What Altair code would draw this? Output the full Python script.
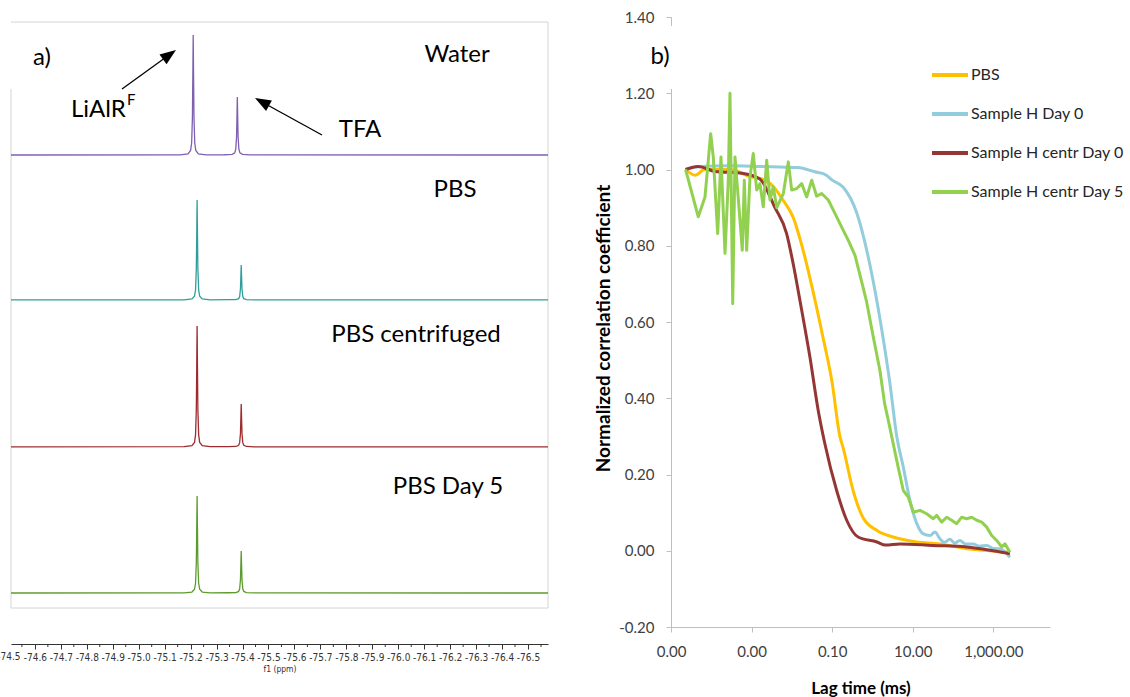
import altair as alt
import pandas as pd

# ---------------- a) 19F NMR spectra (chemical shift, ppm) ----------------
spectrum_names = ["Water", "PBS", "PBS centrifuged", "PBS Day 5"]
spectrum_colors = ["#7e5fb0", "#2f9f9b", "#9e2b2f", "#5c9c2e"]

ppm_water = [-74.508, -75.16, -75.19, -75.20, -75.204, -75.207, -75.2085, -75.21, -75.2115,
             -75.213, -75.216, -75.22, -75.23, -75.26, -75.33, -75.36, -75.37, -75.374,
             -75.377, -75.3785, -75.38, -75.3815, -75.383, -75.386, -75.39, -75.40, -75.43, -76.577]
ppm_other = [-74.508, -75.175, -75.205, -75.215, -75.219, -75.222, -75.2235, -75.225, -75.2265,
             -75.228, -75.231, -75.235, -75.245, -75.275, -75.345, -75.375, -75.385, -75.389,
             -75.392, -75.3935, -75.395, -75.3965, -75.398, -75.401, -75.405, -75.415, -75.445, -76.577]

int_water = [0, 0.0016, 0.01, 0.038, 0.1, 0.31, 0.64, 1.0, 0.64, 0.31, 0.1, 0.038, 0.01, 0.0016,
             0.002, 0.005, 0.018, 0.048, 0.15, 0.309, 0.483, 0.309, 0.15, 0.048, 0.018, 0.005, 0.001, 0]
int_pbs = [0, 0.001, 0.008, 0.032, 0.083, 0.258, 0.533, 0.833, 0.533, 0.258, 0.083, 0.032, 0.008, 0.001,
           0.002, 0.003, 0.011, 0.029, 0.091, 0.187, 0.292, 0.187, 0.091, 0.029, 0.011, 0.003, 0.0005, 0]
int_centr = [0, 0.002, 0.01, 0.038, 0.101, 0.312, 0.645, 1.008, 0.645, 0.312, 0.101, 0.038, 0.01, 0.002,
             0.002, 0.004, 0.014, 0.036, 0.111, 0.229, 0.358, 0.229, 0.111, 0.036, 0.014, 0.004, 0.001, 0]
int_day5 = [0, 0.001, 0.008, 0.031, 0.081, 0.25, 0.517, 0.808, 0.517, 0.25, 0.081, 0.031, 0.008, 0.001,
            0.002, 0.0035, 0.013, 0.035, 0.109, 0.224, 0.35, 0.224, 0.109, 0.035, 0.013, 0.0035, 0.001, 0]

ppm_tick_labels = [-74.6, -74.7, -74.8, -74.9, -75.0, -75.1, -75.2, -75.3, -75.4, -75.5,
                   -75.6, -75.7, -75.8, -75.9, -76.0, -76.1, -76.2, -76.3, -76.4, -76.5]

# ---------------- b) DLS correlation functions ----------------
series_names = ["PBS", "Sample H Day 0", "Sample H centr Day 0", "Sample H centr Day 5"]
series_colors = ["#ffc000", "#93cddd", "#943634", "#92d050"]

lag_pbs = [2.3e-5, 4.0e-5, 6.9e-5, 2.9e-4, 1.0e-3, 1.8e-3, 3.5e-3, 6.0e-3, 1.07e-2, 1.9e-2, 3.3e-2,
           5.9e-2, 0.10, 0.155, 0.186, 0.33, 0.575, 1.29, 3.2, 12.6, 47, 219, 830, 2570]
g_pbs = [1.00, 0.985, 1.00, 1.0, 0.98, 0.975, 0.955, 0.92, 0.875, 0.788, 0.683,
         0.56, 0.44, 0.30, 0.271, 0.158, 0.088, 0.053, 0.036, 0.023, 0.018, 0.005, 0.0, -0.004]

lag_h0 = [2.3e-5, 5.2e-5, 2.9e-4, 1.6e-3, 1.4e-2, 3.7e-2, 7.2e-2, 0.10, 0.186, 0.41, 0.72, 1.15,
          1.82, 2.7, 4.0, 5.8, 8.5, 12.6, 17.8, 26.9, 35.5, 46.8, 60, 83, 110, 148, 200, 309,
          450, 692, 1000, 1445, 2570]
g_h0 = [1.00, 1.008, 1.01, 1.008, 1.005, 0.994, 0.985, 0.972, 0.954, 0.885, 0.788, 0.683,
        0.56, 0.44, 0.30, 0.22, 0.132, 0.071, 0.045, 0.04, 0.049, 0.032, 0.022, 0.03, 0.02, 0.027,
        0.018, 0.018, 0.012, 0.014, 0.006, 0.005, -0.017]

lag_c0 = [2.3e-5, 4.7e-5, 1.23e-4, 5.8e-4, 1.6e-3, 3.8e-3, 7.4e-3, 1.07e-2, 1.58e-2, 2.8e-2, 4.5e-2,
          6.6e-2, 0.129, 0.229, 0.44, 1.29, 2.1, 4.8, 31.6, 219, 980, 2570]
g_c0 = [1.00, 1.008, 0.995, 0.99, 0.975, 0.90, 0.832, 0.754, 0.657, 0.508, 0.368,
        0.28, 0.158, 0.08, 0.036, 0.023, 0.015, 0.018, 0.014, 0.01, 0.0, -0.008]

lag_c5 = [2.3e-5, 4.75e-5, 6.98e-5, 9.66e-5, 1.12e-4, 1.44e-4, 1.74e-4, 2.19e-4, 2.64e-4, 2.91e-4,
          3.40e-4, 3.87e-4, 5.15e-4, 5.87e-4, 6.59e-4, 7.55e-4, 9.12e-4, 1.10e-3, 1.34e-3, 1.61e-3,
          1.95e-3, 2.37e-3, 2.86e-3, 3.45e-3, 4.20e-3, 6.12e-3, 8.15e-3, 9.89e-3, 1.32e-2, 1.75e-2,
          2.33e-2, 3.10e-2, 4.12e-2, 5.48e-2, 8.0e-2, 0.117, 0.172, 0.251, 0.368, 0.540, 0.718,
          1.05, 1.53, 2.0, 2.47, 3.28, 3.99, 5.81, 7.73, 10.3, 15.1, 22.1, 32.3, 39.3, 52.1, 69.3,
          92.3, 123, 163, 217, 290, 385, 513, 682, 908, 1208, 1607, 1941, 2582]
g_c5 = [1.00, 0.876, 0.928, 1.094, 1.033, 0.832, 1.033, 0.78, 0.972, 1.20,
        0.648, 1.033, 0.867, 0.788, 0.972, 0.788, 0.98, 1.042, 0.946, 0.963,
        0.902, 1.024, 0.92, 0.954, 0.90, 0.937, 1.02, 0.946, 0.95, 0.963,
        0.928, 0.972, 0.93, 0.937, 0.92, 0.885, 0.849, 0.814, 0.775, 0.705, 0.652,
        0.56, 0.473, 0.386, 0.342, 0.28, 0.237, 0.158, 0.141, 0.101, 0.106, 0.097, 0.084, 0.093, 0.075, 0.088,
        0.080, 0.071, 0.088, 0.084, 0.088, 0.080, 0.075, 0.062, 0.04, 0.027, 0.01, 0.018, -0.004]

lag_ticks = [1e-5, 1e-3, 0.1, 10, 1000]
g_ticks = [-0.2, 0.0, 0.2, 0.4, 0.6, 0.8, 1.0, 1.2, 1.4]

# ---------------- layout constants (pixels) ----------------
FONT = "Lato"
NARROW = "Liberation Sans Narrow, DejaVu Sans Condensed, sans-serif"
one = pd.DataFrame({"k": [0]})
stack_offset = {"Water": 4.075, "PBS": 2.867, "PBS centrifuged": 1.642, "PBS Day 5": 0.425}

rows = []
for name, ppm, inten in zip(spectrum_names,
                            [ppm_water, ppm_other, ppm_other, ppm_other],
                            [int_water, int_pbs, int_centr, int_day5]):
    for i, (p, v) in enumerate(zip(ppm, inten)):
        rows.append({"spectrum": name, "ppm": p, "y": v + stack_offset[name], "i": i})
nmr_df = pd.DataFrame(rows)

def ppm_scale():
    return alt.Scale(domain=[-74.508, -76.577], range=[11, 548], zero=False, nice=False)

def nmr_y_scale():
    return alt.Scale(domain=[0, 5.1833], range=[644, 22], zero=False, nice=False)

def lag_scale():
    return alt.Scale(type="log", domain=[1e-5, 25400], range=[671, 1050], nice=False)

def g_scale():
    return alt.Scale(domain=[-0.2, 1.4], range=[627, 17], zero=False, nice=False)

def rule(x1, y1, x2, y2, color="#000000", width=1.0):
    return alt.Chart(one).mark_rule(color=color, strokeWidth=width).encode(
        x=alt.value(x1), y=alt.value(y1), x2=alt.value(x2), y2=alt.value(y2))

def label(s, x, y, size, align="center", weight="normal", color="#000000"):
    return alt.Chart(one).mark_text(text=s, align=align, baseline="middle", fontSize=size,
                                    font=FONT, fontWeight=weight, color=color).encode(
        x=alt.value(x), y=alt.value(y))

def head(x, y, ang):
    return alt.Chart(one).mark_point(shape="M0,-1L0.75,1L-0.75,1Z", filled=True, size=256,
                                     color="#000000", opacity=1, angle=ang).encode(
        x=alt.value(x), y=alt.value(y))

layers = []

# frame of the spectra panel
frame_col = "#d4d4d4"
layers += [rule(11, 22, 548, 22, frame_col), rule(548, 22, 548, 608, frame_col),
           rule(11, 608, 548, 608, frame_col), rule(11, 89, 11, 608, frame_col)]

# NMR spectra with ppm axis
layers.append(alt.Chart(nmr_df).mark_line(strokeWidth=1.3).encode(
    x=alt.X("ppm:Q", scale=ppm_scale(),
            axis=alt.Axis(orient="bottom", offset=-53, values=ppm_tick_labels,
                          labelExpr="'-' + format(abs(datum.value), '.1f')",
                          labelFont=NARROW, labelFontSize=10, labelColor="#333333", labelPadding=3,
                          labelOverlap=False, labelFlush=False,
                          tickSize=5, tickColor="#333333", domainColor="#333333",
                          grid=False, title="f1 (ppm)", titleFont=NARROW,
                          titleFontSize=8.5, titleFontWeight="normal", titleColor="#333333",
                          titlePadding=2)),
    y=alt.Y("y:Q", scale=nmr_y_scale(), axis=None),
    color=alt.Color("spectrum:N", scale=alt.Scale(domain=spectrum_names, range=spectrum_colors),
                    legend=None),
    detail="spectrum:N",
    order="i:Q",
))

minor_df = pd.DataFrame({"ppm": [round(-74.55 - 0.1 * i, 2) for i in range(21)]})
layers.append(alt.Chart(minor_df).mark_rule(color="#333333", strokeWidth=1).encode(
    x=alt.X("ppm:Q", scale=ppm_scale(), axis=None), y=alt.value(644), y2=alt.value(647)))

edge_df = pd.DataFrame({"ppm": [-74.5], "t": ["-74.5"]})
layers.append(alt.Chart(edge_df).mark_text(font=NARROW, fontSize=10, color="#333333",
                                           baseline="top").encode(
    x=alt.X("ppm:Q", scale=ppm_scale(), axis=None), y=alt.value(652), text="t:N"))

layers += [
    label("a)", 42, 58, 24),
    label("Water", 457, 55, 24),
    label("LiAlR", 71, 110, 24, align="left"),
    label("F", 127, 100, 15, align="left"),
    label("TFA", 360, 130, 24),
    label("PBS", 455, 190, 24),
    label("PBS centrifuged", 416, 335, 24),
    label("PBS Day 5", 448, 487, 24),
    rule(122, 89, 169, 55, width=1.3), head(169.5, 54.7, 54),
    rule(322, 135, 262, 102, width=1.3), head(262, 101.9, 299),
]

# ---------------- right panel ----------------
axis_col = "#bfbfbf"
x_axis = alt.Axis(orient="bottom", offset=-70, values=lag_ticks,
                  labelExpr="format(datum.value, ',.2f')", labelFont=FONT, labelFontSize=15,
                  labelColor="#404040", labelPadding=12, labelOverlap=False, labelFlush=False,
                  tickSize=5, tickColor=axis_col, domainColor=axis_col, grid=False,
                  title="Lag time (ms)", titleFont=FONT, titleFontSize=17, titleFontWeight="bold",
                  titleColor="#000000", titleY=61, titleBaseline="middle")
y_axis = alt.Axis(orient="left", offset=-671, values=g_ticks,
                  labelExpr="(datum.value < 0 ? '-' : '') + format(abs(datum.value), '.2f')",
                  labelFont=FONT, labelFontSize=15, labelColor="#404040", labelPadding=12,
                  labelOverlap=False, labelFlush=False, tickSize=5, tickColor=axis_col,
                  domainColor=axis_col, grid=False, zindex=0,
                  title="Normalized correlation coefficient", titleFont=FONT, titleFontSize=19,
                  titleFontWeight="bold", titleColor="#000000", titleX=-68, titleY=328,
                  titleAngle=270, titleBaseline="middle", titleAlign="center")

interps = ["monotone", "monotone", "monotone", "linear"]
for k, (name, col, lags, gs) in enumerate(zip(series_names, series_colors,
                                               [lag_pbs, lag_h0, lag_c0, lag_c5],
                                               [g_pbs, g_h0, g_c0, g_c5])):
    df = pd.DataFrame({"lag": lags, "g": gs, "i": range(len(lags))})
    layers.append(alt.Chart(df).mark_line(color=col, strokeWidth=3, strokeJoin="round",
                                          interpolate=interps[k]).encode(
        x=alt.X("lag:Q", scale=lag_scale(), axis=x_axis if k == 0 else None),
        y=alt.Y("g:Q", scale=g_scale(), axis=y_axis if k == 0 else None),
        order="i:Q"))

layers.append(alt.Chart(one).mark_rect(color="#ffffff").encode(
    x=alt.value(664), x2=alt.value(678), y=alt.value(26), y2=alt.value(89)))

for name, col, yy in zip(series_names, series_colors, [75, 114, 153, 192]):
    layers.append(rule(932, yy, 968, yy, col, 4))
    layers.append(label(name, 971, yy, 16, align="left", color="#262626"))

layers.append(label("b)", 660, 57, 24))

chart = alt.layer(*layers).resolve_scale(x="independent", y="independent").resolve_axis(
    x="independent", y="independent").properties(
    width=1130, height=697, autosize=alt.AutoSizeParams(type="none"), padding=0,
    background="#ffffff",
).configure_view(stroke=None)

chart.save("out.html", embed_options={"renderer": "svg", "actions": False})
